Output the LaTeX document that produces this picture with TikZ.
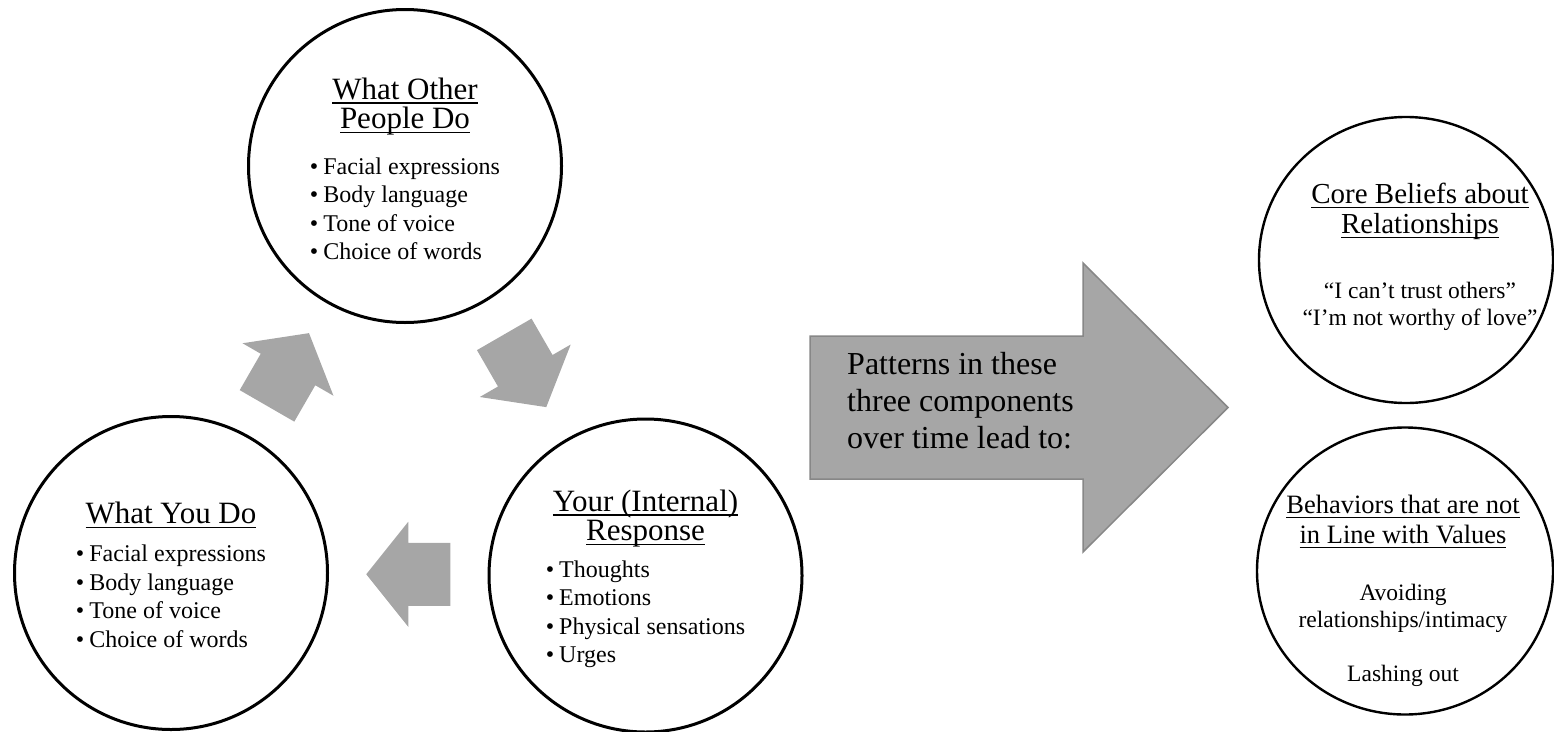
\documentclass[tikz,border=0pt]{standalone}
\usepackage{fontspec}
\setmainfont{Liberation Serif}
\usetikzlibrary{calc,shapes.geometric}
\definecolor{arrowgray}{RGB}{166,166,166}
\definecolor{edgegray}{RGB}{135,135,135}
\newsavebox{\hdbox}
% underlined heading: size, text
\newcommand{\hd}[2]{{\fontsize{#1}{#1}\selectfont\sbox{\hdbox}{#2}%
  \usebox{\hdbox}\llap{\rule[-4.5pt]{\wd\hdbox}{1.3pt}}}}
\newcommand{\bul}{\textbullet\hspace{5pt}}
% short grey block arrow half way between two circles
\newcommand{\cyclearrow}[3]{
  \begin{scope}[shift={($(#1)!0.5!(#2)$)},rotate=#3]
    \fill[arrowgray] (42,0) -- (0,52.5) -- (0,31.5) -- (-42,31.5)
      -- (-42,-31.5) -- (0,-31.5) -- (0,-52.5) -- cycle;
  \end{scope}
}

\begin{document}
\begin{tikzpicture}[x=1pt,y=-1pt]
\tikzset{part/.style={draw,circle,line width=3pt,minimum size=313pt,inner sep=0pt},
  parttext/.style={inner sep=0pt,align=center,font=\fontsize{24}{28.5}\selectfont},
  outcome/.style={draw,ellipse,line width=2.4pt,inner sep=0pt},
  outtext/.style={inner sep=0pt,align=center,font=\fontsize{23.5}{27}\selectfont}}
\useasboundingbox (0,0) rectangle (1554,731);

\node[part] (others) at (405,166) {};
\node[part] (you) at (171,573) {};
\node[part] (inner) at (645.5,575.5) {};

\node[parttext] (others-text) at ([yshift=-7pt]others) {\hd{31}{What Other}\\[1pt]
  \hd{31}{People Do}\\[17pt]
  \begin{tabular}[t]{@{}l@{}}\bul Facial expressions\\\bul Body language\\
  \bul Tone of voice\\\bul Choice of words\end{tabular}};
\node[parttext] (you-text) at ([yshift=-6pt]you) {\hd{31}{What You Do}\\[10pt]
  \begin{tabular}[t]{@{}l@{}}\bul Facial expressions\\\bul Body language\\
  \bul Tone of voice\\\bul Choice of words\end{tabular}};
\node[parttext] (inner-text) at ([yshift=-5pt]inner) {\hd{31}{Your (Internal)}\\[1pt]
  \hd{31}{Response}\\[8pt]
  \begin{tabular}[t]{@{}l@{}}\bul Thoughts\\\bul Emotions\\
  \bul Physical sensations\\\bul Urges\end{tabular}};

\cyclearrow{you}{others}{60}
\cyclearrow{others}{inner}{-60}
\cyclearrow{inner}{you}{180}

% big arrow towards the outcomes
\draw[fill=arrowgray,draw=edgegray,line width=1.5pt]
  (810,336) -- (1083,336) -- (1083,263) -- (1228,407.5) -- (1083,552)
  -- (1083,479) -- (810,479) -- cycle;
\node[anchor=north west,inner sep=0pt,align=left,font=\fontsize{32}{37}\selectfont]
  (patterns) at (847,352) {Patterns in these\\three components\\over time lead to:};

\node[outcome,minimum width=294pt,minimum height=286pt] (beliefs) at (1406,260) {};
\node[outtext] (beliefs-text) at (1420,257) {\hd{29}{Core Beliefs about}\\[3pt]
  \hd{29}{Relationships}\\[38pt]“I can’t trust others”\\“I’m not worthy of love”};
\node[outcome,minimum width=296pt,minimum height=287pt] (behav) at (1405,571) {};
\node[outtext] (behav-text) at (1403,591) {\hd{26.5}{Behaviors that are not}\\[3pt]
  \hd{26.5}{in Line with Values}\\[30pt]Avoiding\\relationships/intimacy\\[27pt]Lashing out};
\end{tikzpicture}
\end{document}
